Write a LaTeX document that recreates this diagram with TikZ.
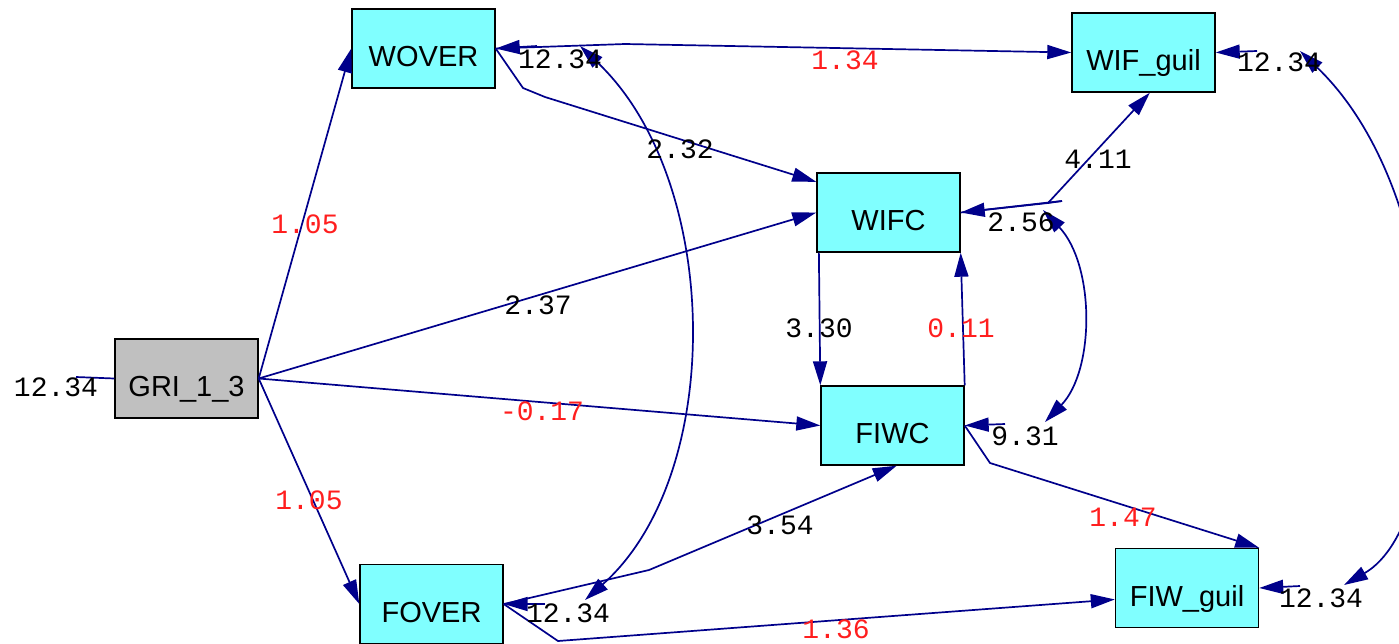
\documentclass[tikz,border=0pt]{standalone}
\usepackage{fontspec}
\setmainfont{Liberation Sans}
\newfontfamily\lblfont{Liberation Mono}
\usetikzlibrary{arrows.meta}
\definecolor{edgeblue}{RGB}{0,0,139}
\definecolor{boxcyan}{RGB}{128,255,255}
\definecolor{boxgray}{RGB}{192,192,192}
\definecolor{lblred}{RGB}{255,30,30}
\begin{document}
\begin{tikzpicture}[x=1pt,y=-1pt,
  var/.style={draw=black,line width=1.4pt,fill=boxcyan,minimum width=143pt,minimum height=79pt,
    inner sep=0pt,text height=36pt,text depth=0pt,font=\fontsize{29}{30}\selectfont},
  exo/.style={var,fill=boxgray},
  edge/.style={draw=edgeblue,line width=1.7pt,-{Triangle[length=24pt,width=14pt]}},
  plain/.style={draw=edgeblue,line width=1.7pt},
  cov/.style={draw=edgeblue,line width=1.7pt,{Triangle[length=24pt,width=14pt]}-{Triangle[length=24pt,width=14pt]}},
  lbl/.style={font=\lblfont\fontsize{28}{30}\selectfont,inner sep=0pt,text=black},
  lr/.style={lbl,text=lblred}]
\useasboundingbox (0,0) rectangle (1399,643);
\fill[white] (0,0) rectangle (1399,643);

% nodes
\node[var] (WOVER) at (423.5,48.5) {WOVER};
\node[var] (WIFG) at (1143.5,52.5) {WIF\_guil};
\node[var] (WIFC) at (888.5,212.5) {WIFC};
\node[exo] (GRI) at (186.5,378.5) {GRI\_1\_3};
\node[var] (FIWC) at (892.5,425.5) {FIWC};
\node[var] (FOVER) at (431.5,604) {FOVER};
\node[var] (FIWG) at (1187,588) {FIW\_guil};

% bend and error coordinates
\coordinate (bWO1) at (625,44);
\coordinate (bWO2) at (523,88);
\coordinate (bWO3) at (545,97);
\coordinate (bWI) at (1048,203);
\coordinate (bFO1) at (649,570);
\coordinate (bFO2) at (558,641);
\coordinate (bFI) at (990,463);
\coordinate (eGRI) at (76,377);
\coordinate (eWOVER) at (537,46);
\coordinate (eWIFG) at (1257,51);
\coordinate (eWIFC) at (1062,201);
\coordinate (eFIWC) at (1005,424);
\coordinate (eFOVER) at (545,604);
\coordinate (eFIWG) at (1300,586);
\coordinate (cWO) at (580,46);
\coordinate (cFO) at (585,600);
\coordinate (cWI) at (1043,210);
\coordinate (cFI) at (1045,422);
\coordinate (cWG) at (1300,51);
\coordinate (cFG) at (1344,585);

% regressions
\draw[edge] (GRI.east) -- (WOVER.west);
\draw[edge] (GRI.east) -- (WIFC.west);
\draw[edge] (GRI.east) -- (FIWC.west);
\draw[edge] (GRI.east) -- (FOVER.west);
\draw[edge] (WOVER.east) -- (bWO1) -- (WIFG.west);
\draw[edge] (WOVER.east) -- (bWO2) -- (bWO3) -- (WIFC.157);
\draw[edge] (WIFC.east) -- (bWI) -- (WIFG.-81);
\draw[plain] (bWI) -- (eWIFC);
\draw[edge] (WIFC.-150.4) -- (FIWC.north west);
\draw[edge] (FIWC.north east) -- (WIFC.south east);
\draw[edge] (FOVER.east) -- (bFO1) -- (FIWC.-84);
\draw[edge] (FIWC.east) -- (bFI) -- (FIWG.north east);
\draw[edge] (FOVER.east) -- (bFO2) -- (FIWG.189);

% error terms
\draw[plain] (eGRI) -- (GRI.west);
\draw[edge] (eWOVER) -- (WOVER.east);
\draw[edge] (eWIFG) -- (WIFG.east);
\draw[edge] (eWIFC) -- (WIFC.east);
\draw[edge] (eFIWC) -- (FIWC.east);
\draw[edge] (eFOVER) -- (FOVER.east);
\draw[edge] (eFIWG) -- (FIWG.east);

% covariances
\begin{scope}
\clip (0,0) rectangle (1399,643);
\draw[cov] (cWO) .. controls (722,180) and (726,475) .. (cFO);
\draw[cov] (cWI) .. controls (1095,265) and (1095,370) .. (cFI);
\draw[cov] (cWG) .. controls (1455,200) and (1455,521) .. (cFG);
\end{scope}

% labels
\node[lr] (l1) at (305,224) {1.05};
\node[lr] (l2) at (309,500) {1.05};
\node[lbl] (l3) at (538,305) {2.37};
\node[lr] (l4) at (542,411) {-0.17};
\node[lbl] (l5) at (680,149) {2.32};
\node[lr] (l6) at (845,60) {1.34};
\node[lbl] (l7) at (1098,159) {4.11};
\node[lbl] (l8) at (819,328) {3.30};
\node[lr] (l9) at (961,328) {0.11};
\node[lbl] (l10) at (780,525) {3.54};
\node[lr] (l11) at (1123,517) {1.47};
\node[lr] (l12) at (836,629) {1.36};
\node[lbl] (v1) at (56,387) {12.34};
\node[lbl] (v2) at (560,59) {12.34};
\node[lbl] (v3) at (1279,62) {12.34};
\node[lbl] (v4) at (1021,222) {2.56};
\node[lbl] (v5) at (1025,436) {9.31};
\node[lbl] (v6) at (568,613) {12.34};
\node[lbl] (v7) at (1321,598) {12.34};
\end{tikzpicture}
\end{document}
